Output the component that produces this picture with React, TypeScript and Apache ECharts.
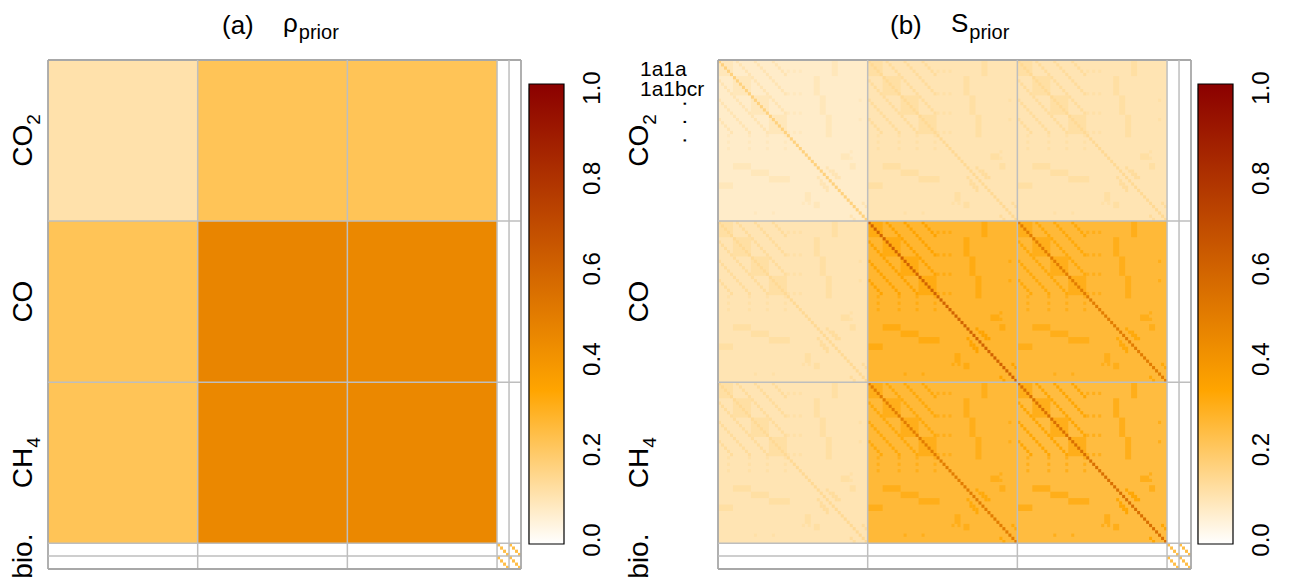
import { useEffect, useRef } from "react";
import * as echarts from "echarts";

// matrix layout: three species, each resolved into sectors, then two bio groups
const SPECIES_LABELS = ["{m|CO}{sub|2}", "{m|CO}", "{m|CH}{sub|4}", "{m|bio.}"];
const N_SPECIES = 3;
const N_SECTOR = 50;
const BIO_GROUPS = 2;
const N_BIO = 4;
const BIO0 = N_SPECIES * N_SECTOR;
const TOTAL = BIO0 + BIO_GROUPS * N_BIO;

// block boundaries (in matrix index units)
const BOUNDS = [0, 50, 100, 150, 154, 158];

const COLOR_STOPS = ["#FFFFFF", "#FFA500", "#C55200", "#8B0000"];
const COLORBAR_RANGE = [0, 1];
const COLORBAR_TICKS = [0, 0.2, 0.4, 0.6, 0.8, 1.0];

// (a) prior correlation between species, one value per block
const RHO_PRIOR = [
  [0.11, 0.22, 0.22],
  [0.22, 0.46, 0.45],
  [0.22, 0.45, 0.45],
];
// bio x bio diagonal value (both panels)
const BIO_DIAG = 0.24;

// (b) sector-resolved prior
const S_BASE = [
  [0.07, 0.1, 0.1],
  [0.1, 0.27, 0.26],
  [0.1, 0.26, 0.25],
];
const S_DIAG = [
  [0.17, 0.14, 0.14],
  [0.14, 0.6, 0.5],
  [0.14, 0.5, 0.55],
];
const S_SUB = [
  [0.09, 0.12, 0.12],
  [0.12, 0.31, 0.3],
  [0.12, 0.3, 0.3],
];
const S_LINK = [
  [0.1, 0.13, 0.13],
  [0.13, 0.34, 0.32],
  [0.13, 0.32, 0.33],
];
const S_DOT = [
  [0.085, 0.115, 0.115],
  [0.115, 0.31, 0.3],
  [0.115, 0.3, 0.3],
];

// sector sub-blocks [r0, r1, c0, c1]
const SUB_BLOCKS = [
  [0, 5, 0, 5], [5, 11, 5, 11], [11, 17, 11, 17], [17, 23, 17, 23],
  [0, 5, 38, 40], [38, 40, 0, 5],
  [5, 11, 32, 34], [32, 34, 5, 11],
  [11, 17, 34, 36], [34, 36, 11, 17],
  [17, 24, 36, 38], [36, 38, 17, 24],
  [29, 31, 41, 44], [41, 44, 29, 31],
  [44, 46, 32, 34], [32, 34, 44, 46],
];
// off-diagonal sector links [r0, c0, length]
const LINKS = [
  [6, 0, 17], [0, 6, 17], [12, 0, 11], [0, 12, 11], [18, 0, 5], [0, 18, 5],
  [33, 36, 4], [36, 33, 4], [34, 38, 3], [38, 34, 3],
  [44, 48, 2], [48, 44, 2],
];
// isolated linked cells [r, c]
const DOTS = [
  [3, 23], [3, 25], [3, 27], [10, 23], [10, 25], [10, 27],
  [16, 23], [16, 25], [16, 27], [22, 23], [22, 25], [22, 27],
  [23, 3], [25, 3], [27, 3], [23, 10], [25, 10], [27, 10],
  [23, 16], [25, 16], [27, 16], [23, 22], [25, 22], [27, 22],
  [28, 44], [30, 44], [44, 28], [44, 30], [47, 12], [47, 18], [12, 47], [18, 47],
];

type Cell = [number, number, number, number, number]; // c0, c1, r0, r1, value

function pushCell(cells: Cell[], r: number, c: number, v: number) {
  cells.push([c, c + 1, r, r + 1, v]);
}

function bioDiagonal(cells: Cell[], v: number) {
  for (let g1 = 0; g1 < BIO_GROUPS; g1++)
    for (let g2 = 0; g2 < BIO_GROUPS; g2++)
      for (let e = 0; e < N_BIO; e++)
        pushCell(cells, BIO0 + g1 * N_BIO + e, BIO0 + g2 * N_BIO + e, v);
}

function buildRho(): Cell[] {
  const cells: Cell[] = [];
  RHO_PRIOR.forEach((row, i) =>
    row.forEach((v, j) =>
      cells.push([j * N_SECTOR, (j + 1) * N_SECTOR, i * N_SECTOR, (i + 1) * N_SECTOR, v])
    )
  );
  bioDiagonal(cells, BIO_DIAG);
  return cells;
}

function buildS(): Cell[] {
  const cells: Cell[] = [];
  for (let i = 0; i < N_SPECIES; i++) {
    for (let j = 0; j < N_SPECIES; j++) {
      const r = i * N_SECTOR;
      const c = j * N_SECTOR;
      cells.push([c, c + N_SECTOR, r, r + N_SECTOR, S_BASE[i][j]]);
      SUB_BLOCKS.forEach(([r0, r1, c0, c1]) =>
        cells.push([c + c0, c + c1, r + r0, r + r1, S_SUB[i][j]])
      );
      LINKS.forEach(([r0, c0, len]) => {
        for (let t = 0; t < len; t++) pushCell(cells, r + r0 + t, c + c0 + t, S_LINK[i][j]);
      });
      DOTS.forEach(([rr, cc]) => pushCell(cells, r + rr, c + cc, S_DOT[i][j]));
      for (let t = 0; t < N_SECTOR; t++) pushCell(cells, r + t, c + t, S_DIAG[i][j]);
    }
  }
  bioDiagonal(cells, BIO_DIAG);
  return cells;
}

const FONT = "'Liberation Sans', Arial, sans-serif";
const RICH = {
  m: { fontSize: 28, fontFamily: FONT, color: "#000", padding: [0, 0, 7, 0], verticalAlign: "bottom" },
  sub: { fontSize: 19, fontFamily: FONT, color: "#000", verticalAlign: "bottom" },
};

const matrixItem = (_p: any, api: any) => {
  const p0 = api.coord([api.value(0), api.value(2)]);
  const p1 = api.coord([api.value(1), api.value(3)]);
  return {
    type: "rect",
    shape: {
      x: Math.min(p0[0], p1[0]),
      y: Math.min(p0[1], p1[1]),
      width: Math.abs(p1[0] - p0[0]),
      height: Math.abs(p1[1] - p0[1]),
    },
    style: { fill: api.visual("color") },
  };
};

const boundItem = (_p: any, api: any) => {
  const b = api.value(0);
  const outer = b === 0 || b === TOTAL;
  const style = { stroke: outer ? "#A8A8A8" : "#BEBEBE", lineWidth: outer ? 1.8 : 1.5 };
  const v0 = api.coord([b, 0]);
  const v1 = api.coord([b, TOTAL]);
  const h0 = api.coord([0, b]);
  const h1 = api.coord([TOTAL, b]);
  return {
    type: "group",
    children: [
      { type: "line", shape: { x1: v0[0], y1: v0[1], x2: v1[0], y2: v1[1] }, style },
      { type: "line", shape: { x1: h0[0], y1: h0[1], x2: h1[0], y2: h1[1] }, style },
    ],
  };
};

const labelItem = (gap: number) => (params: any, api: any) => {
  const p = api.coord([0, api.value(0)]);
  return {
    type: "text",
    x: p[0] - gap,
    y: p[1],
    rotation: Math.PI / 2,
    style: {
      text: SPECIES_LABELS[params.dataIndex],
      rich: RICH,
      align: "center",
      verticalAlign: "bottom",
    },
  };
};

const colorbarItem = (_p: any, api: any) => {
  const lo = api.coord([0, api.value(0)]);
  const hi = api.coord([1, api.value(1)]);
  return {
    type: "rect",
    shape: { x: lo[0], y: hi[1] - 4, width: hi[0] - lo[0], height: lo[1] - hi[1] + 8 },
    style: {
      fill: new echarts.graphic.LinearGradient(0, 1, 0, 0,
        COLOR_STOPS.map((color, i) => ({ offset: i / (COLOR_STOPS.length - 1), color }))),
      stroke: "#000",
      lineWidth: 1.2,
    },
  };
};

const LABEL_CENTERS = [
  ...Array.from({ length: N_SPECIES }, (_, s) => [s * N_SECTOR + N_SECTOR / 2]),
  [BIO0 + (BIO_GROUPS * N_BIO) / 2],
];

function buildOption(): echarts.EChartsOption {
  const panels = [
    { left: 48, cbLeft: 529 },
    { left: 718, cbLeft: 1198 },
  ];
  const grid: any[] = [];
  const xAxis: any[] = [];
  const yAxis: any[] = [];
  panels.forEach((p) => {
    grid.push({ left: p.left, top: 60, width: 473, height: 509 });
    grid.push({ left: p.cbLeft, top: 88, width: 35, height: 452 });
  });
  for (let g = 0; g < 4; g++) {
    const isBar = g % 2 === 1;
    xAxis.push({ type: "value", gridIndex: g, min: 0, max: isBar ? 1 : TOTAL, show: false });
    yAxis.push(
      isBar
        ? {
            type: "value",
            gridIndex: g,
            min: COLORBAR_RANGE[0],
            max: COLORBAR_RANGE[1],
            position: "right",
            axisLine: { show: true, lineStyle: { color: "#000", width: 1.2 } },
            axisTick: { show: true, length: 16, customValues: COLORBAR_TICKS, lineStyle: { color: "#000", width: 1.2 } },
            axisLabel: {
              customValues: COLORBAR_TICKS,
              rotate: 90,
              fontSize: 24,
              fontFamily: FONT,
              color: "#000",
              margin: 15,
              formatter: (v: number) => v.toFixed(1),
            },
            splitLine: { show: false },
          }
        : { type: "value", gridIndex: g, min: 0, max: TOTAL, inverse: true, show: false }
    );
  }

  const series: any[] = [];
  [buildRho(), buildS()].forEach((cells, k) => {
    const g = k * 2;
    series.push({ type: "custom", xAxisIndex: g, yAxisIndex: g, renderItem: matrixItem, data: cells, dimensions: ["c0", "c1", "r0", "r1", "v"] });
    series.push({ type: "custom", xAxisIndex: g, yAxisIndex: g, renderItem: boundItem, data: BOUNDS.map((b) => [b]) });
    series.push({ type: "custom", xAxisIndex: g, yAxisIndex: g, renderItem: labelItem(k === 0 ? 5 : 59), data: LABEL_CENTERS });
    series.push({ type: "custom", xAxisIndex: g + 1, yAxisIndex: g + 1, renderItem: colorbarItem, data: [COLORBAR_RANGE] });
  });

  const titleText = (x: number, tag: string, sym: string) => [
    { type: "text", left: x, top: 12, style: { text: tag, fontSize: 26, fontFamily: FONT, fill: "#000" } },
    {
      type: "text",
      left: x + 61,
      top: 10,
      style: {
        text: `{t|${sym}}{s|prior}`,
        rich: {
          t: { fontSize: 26, fontFamily: FONT, color: "#000", padding: [0, 1, 6, 0], verticalAlign: "bottom" },
          s: { fontSize: 20, fontFamily: FONT, color: "#000", verticalAlign: "bottom" },
        },
      },
    },
  ];

  return {
    animation: false,
    backgroundColor: "#fff",
    grid,
    xAxis,
    yAxis,
    visualMap: [
      { type: "continuous", show: false, min: 0, max: 1, dimension: 4, seriesIndex: [0, 4], inRange: { color: COLOR_STOPS } },
    ],
    series,
    graphic: [
      ...titleText(222, "(a)", "ρ"),
      ...titleText(890, "(b)", "S"),
      {
        type: "text",
        left: 640,
        top: 58,
        style: { text: "1a1a\n1a1bcr", fontSize: 21, lineHeight: 20, fontFamily: FONT, fill: "#000" },
      },
      {
        type: "text",
        x: 678,
        y: 122,
        rotation: Math.PI / 2,
        style: { text: ".  .  .", fontSize: 22, fontFamily: FONT, fill: "#000", align: "center", verticalAlign: "middle" },
      },
    ],
  };
}

export default function App() {
  const ref = useRef<HTMLDivElement>(null);

  useEffect(() => {
    if (!ref.current) return;
    const chart = echarts.init(ref.current, undefined, { renderer: "svg" });
    chart.setOption(buildOption());
    return () => chart.dispose();
  }, []);

  return (
    <div
      ref={ref}
      style={{ position: "absolute", left: 0, top: 0, width: 1290, height: 587, background: "#fff" }}
    />
  );
}
